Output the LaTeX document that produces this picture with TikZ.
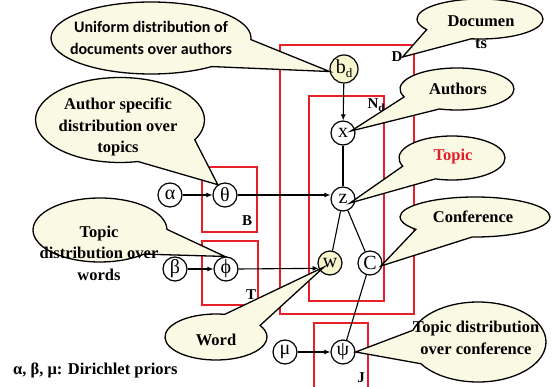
\documentclass[tikz,border=0pt]{standalone}
\usepackage{fontspec}
\setmainfont{Liberation Serif}
\newfontfamily\calfont{Carlito}
\usetikzlibrary{shapes.callouts,arrows.meta,backgrounds,calc}
\definecolor{plred}{RGB}{230,32,38}
\definecolor{bubfill}{RGB}{250,249,228}
\definecolor{nodefill}{RGB}{247,245,205}
\definecolor{topicred}{RGB}{226,30,38}
\tikzset{
  var/.style={circle,draw,line width=1.2pt,minimum size=24pt,inner sep=0pt,font=\fontsize{20}{20}\selectfont},
  obsvar/.style={var,fill=nodefill},
  plate/.style={draw=plred,line width=1.5pt},
  conn/.style={line width=1.1pt},
  arr/.style={conn,-{Latex[length=6pt,width=5pt]}},
  bubble/.style={ellipse callout,draw,fill=bubfill,line width=1.3pt,inner sep=0pt,callout pointer arc=50},
  btext/.style={font=\bfseries\fontsize{16.5}{21.5}\selectfont,align=center,inner sep=0pt},
  ctext/.style={font=\calfont\bfseries\fontsize{16}{22}\selectfont,align=center,inner sep=0pt},
  platelabel/.style={font=\bfseries\fontsize{15}{15}\selectfont,inner sep=0pt},
}
\begin{document}
\begin{tikzpicture}[x=1pt,y=-1pt]
\useasboundingbox (0,0) rectangle (554,387);
% variables
\node[var] (alpha) at (170,195) {α};
\node[var] (theta) at (225,195) {θ};
\node[var] (beta) at (175,269) {β};
\node[var] (phi) at (226,269) {ϕ};
\node[obsvar,minimum size=28pt] (bd) at (344,69) {b\raisebox{-4pt}{\fontsize{13}{13}\selectfont d}};
\node[var] (x) at (343,133) {x};
\node[var] (z) at (343,199) {z};
\node[obsvar] (w) at (330,263) {w};
\node[var] (c) at (370,263) {C};
\node[var] (mu) at (285,352) {μ};
\node[var] (psi) at (343,352) {ψ};
% plates
\begin{pgfonlayer}{background}
\draw[plate] (280,45) rectangle (414,314);
\draw[plate] (309,96) rectangle (384,301);
\draw[plate] (202,167) rectangle (257,232);
\draw[plate] (202,241) rectangle (258,305);
\draw[plate] (314,390) -- (314,323) -- (368,323) -- (368,390);
\end{pgfonlayer}
\node[platelabel] (lD) at (397,57) {D};
\node[platelabel] (lN) at (376,105) {N\raisebox{-3pt}{\fontsize{11}{11}\selectfont d}};
\node[platelabel] (lB) at (247,221) {B};
\node[platelabel] (lT) at (251,295) {T};
\node[platelabel] (lJ) at (361,378) {J};
% connectors
\draw[arr] (alpha) -- (theta);
\draw[arr] (theta.east) -- (theta.east -| z.west);
\draw[arr] (beta) -- (phi);
\draw[arr] (phi.east) -- (w.205);
\draw[arr] (bd) -- (x);
\draw[conn] (x) -- (z);
\draw[conn] (z) -- (w);
\draw[conn] (z) -- (c);
\draw[arr] (mu) -- (psi);
\draw[conn] (psi) -- (c);
% callouts
\node[bubble,minimum width=200pt,minimum height=72pt,callout absolute pointer={(bd.190)}] (cUni) at (151,38) {};
\node[bubble,minimum width=169pt,minimum height=85pt,callout absolute pointer={(theta.125)}] (cAuth) at (120,120) {};
\node[bubble,minimum width=134pt,minimum height=64pt,callout absolute pointer={(phi.95)}] (cTW) at (100,230) {};
\node[bubble,minimum width=102pt,minimum height=46pt,callout absolute pointer={($(w)+(-6,4)$)}] (cWord) at (216,337) {};
\node[bubble,minimum width=126pt,minimum height=40pt,callout absolute pointer={(lD.east)}] (cDoc) at (480,19) {};
\node[bubble,minimum width=114pt,minimum height=42pt,callout absolute pointer={($(x)+(8,-2)$)}] (cAuthors) at (457,89) {};
\node[bubble,minimum width=106pt,minimum height=44pt,callout absolute pointer={($(z)+(7,4)$)}] (cTopic) at (452,158) {};
\node[bubble,minimum width=150pt,minimum height=40pt,callout absolute pointer={($(c)+(11,3)$)}] (cConf) at (475,217) {};
\node[bubble,minimum width=136pt,minimum height=80pt,callout absolute pointer={(psi.east)}] (cTDC) at (478,342) {};
% texts
\node[ctext] (tUni) at (151,38) {Uniform distribution of\\documents over authors};
\node[btext] (tAuth) at (118,127) {Author specific\\distribution over\\topics};
\node[btext] (tTW) at (99,253) {Topic\\distribution over\\words};
\node[btext] (tWord) at (216,340) {Word};
\node[btext] (tDoc) at (481,32) {Documen\\ts};
\node[btext] (tAuthors) at (458,89) {Authors};
\node[btext,text=topicred] (tTopic) at (453,157) {Topic};
\node[btext] (tConf) at (473,217) {Conference};
\node[btext] (tTDC) at (476,338) {Topic distribution\\over conference};
\node[btext,anchor=west] (tDir) at (13,370) {α, β, μ: Dirichlet priors};
\end{tikzpicture}
\end{document}
